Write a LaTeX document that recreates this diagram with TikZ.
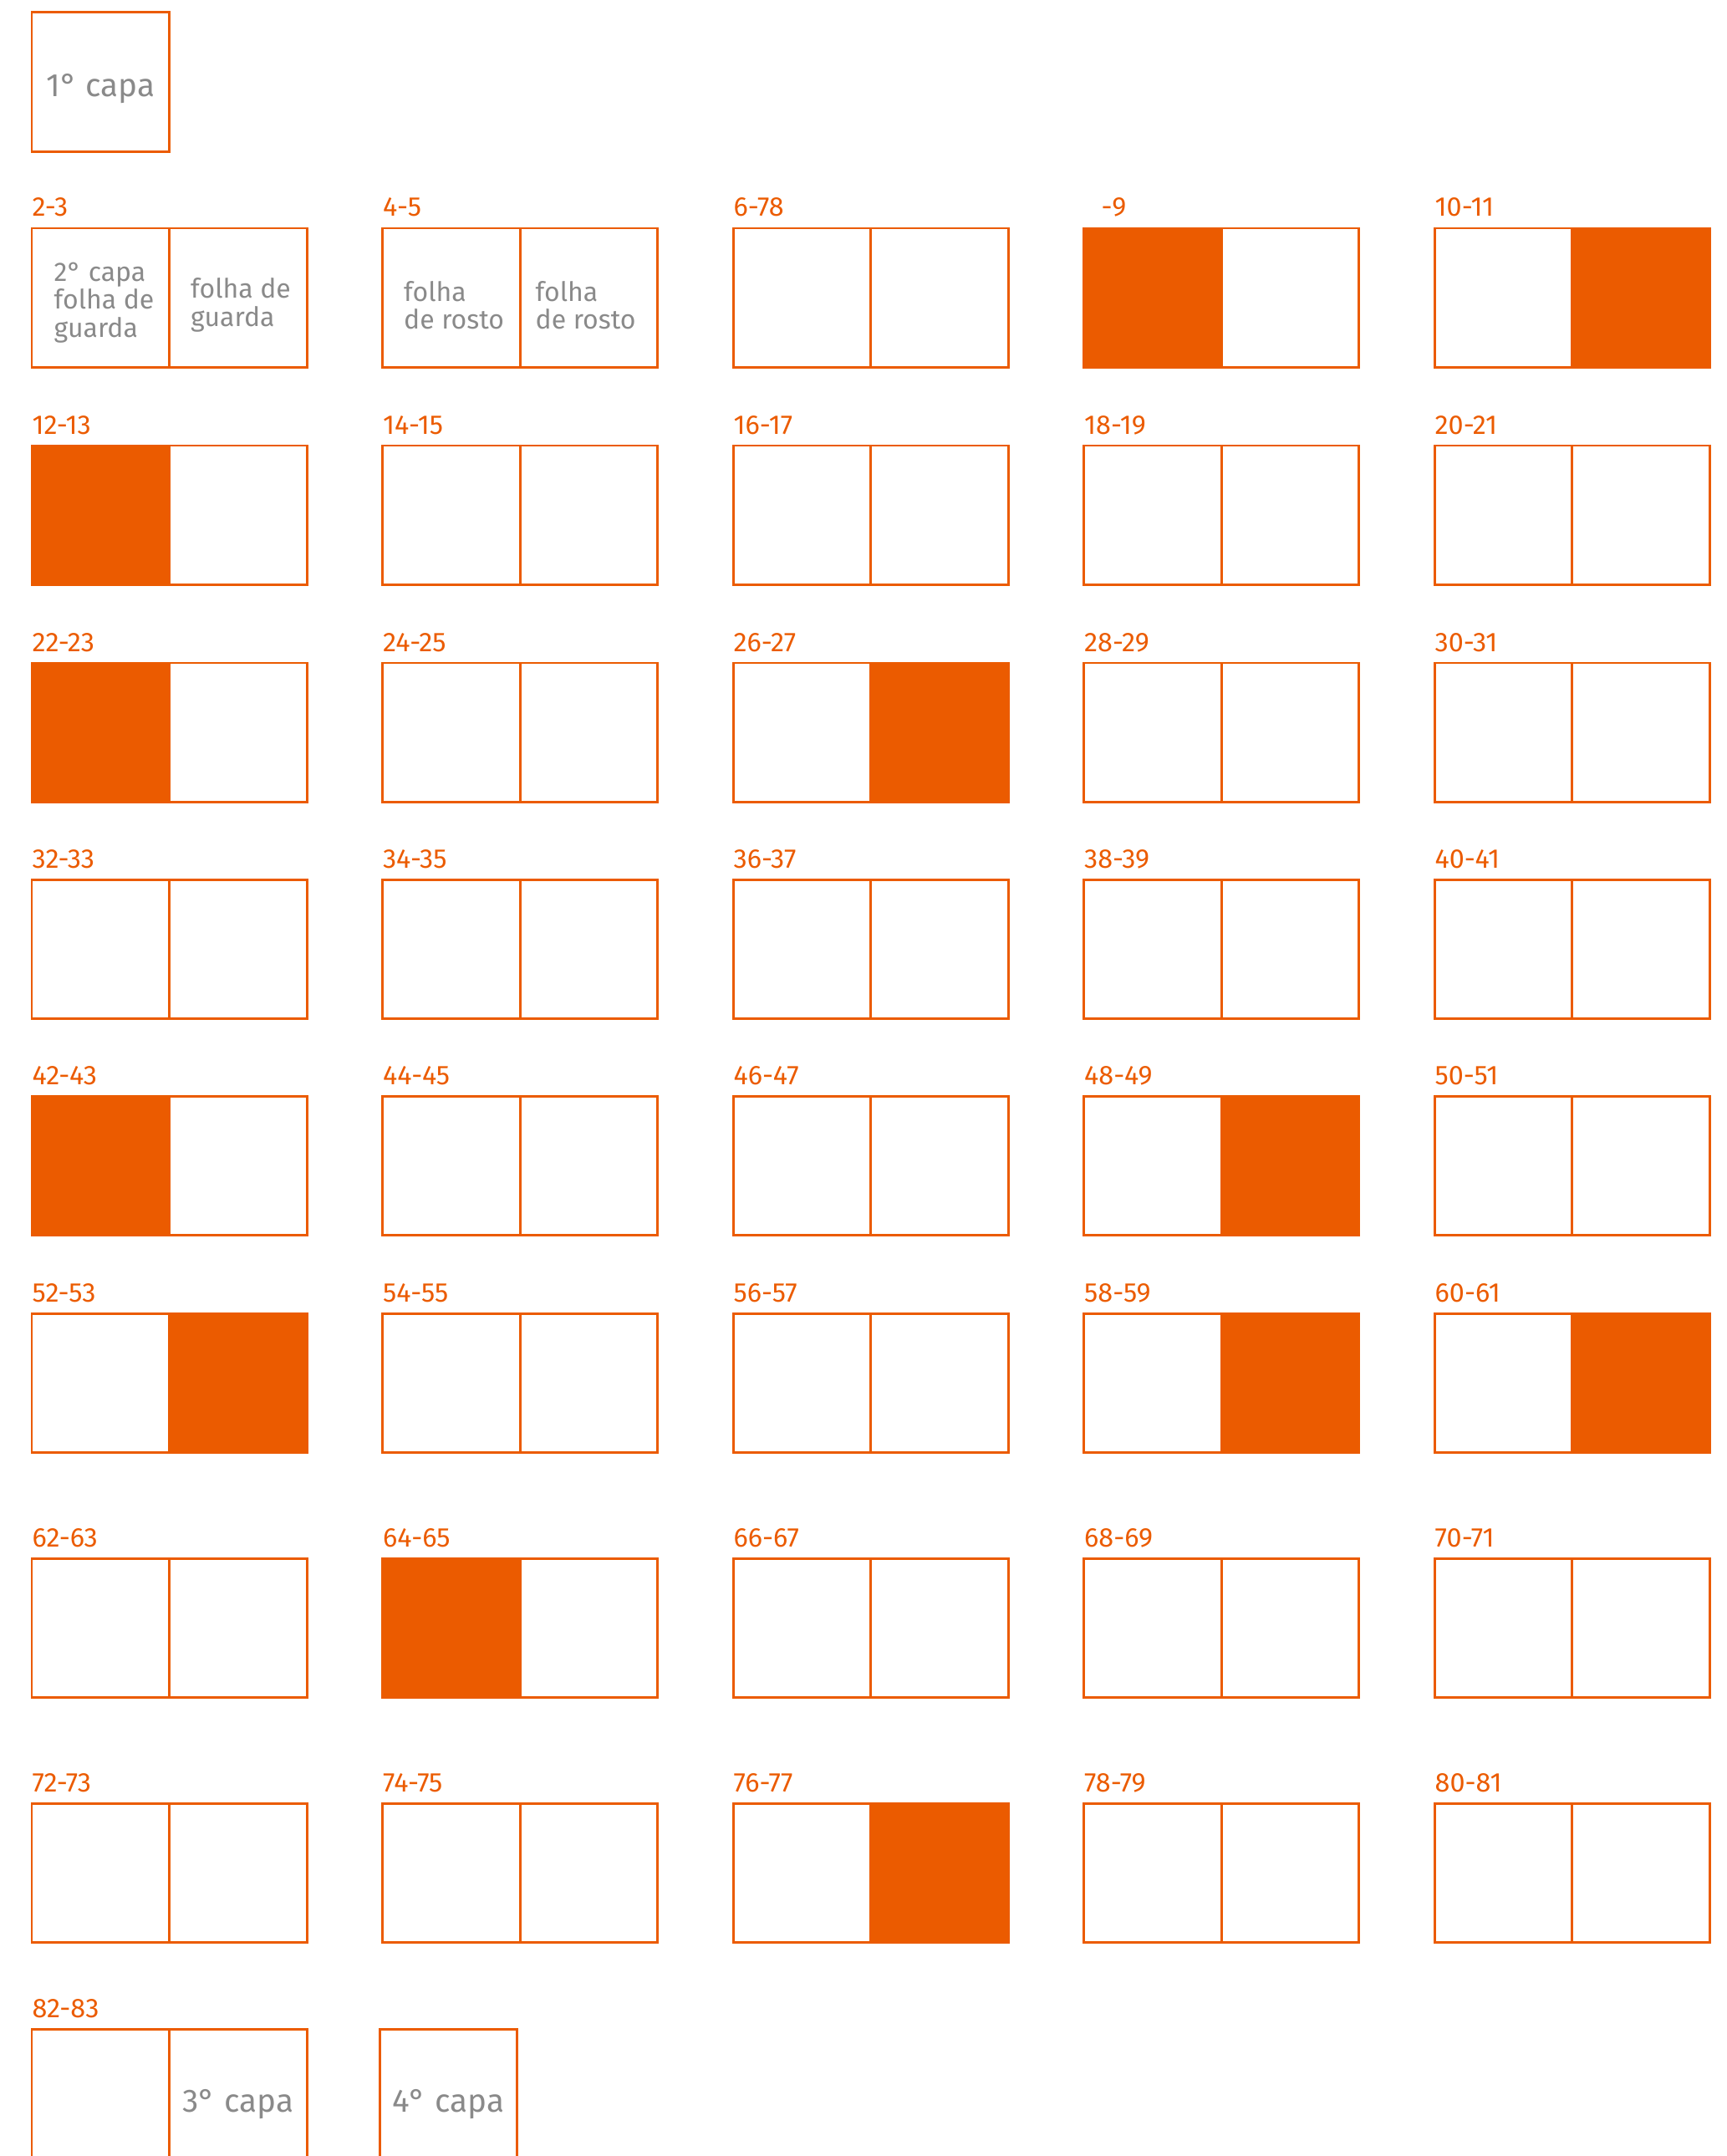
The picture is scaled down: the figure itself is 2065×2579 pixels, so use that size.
\documentclass[tikz,border=0pt]{standalone}
\usepackage{fontspec}
\setmainfont{Fira Sans}
\definecolor{brand}{HTML}{EB5B00}
\definecolor{txt}{HTML}{8A8A8A}
\newcommand\spread[6]{%
  \node[lbl] (#1l) at (#2,#3-14) {#4};
  \node[#5] (#1a) at (#2,#3) {};
  \node[#6] (#1b) at (#2+164.5,#3) {};
}
\begin{document}
\begin{tikzpicture}[x=0.01cm,y=-0.01cm,
  page/.style={draw=brand, line width=0.85pt, minimum width=1.645cm, minimum height=1.66cm, inner sep=0pt, outer sep=0pt, anchor=north west},
  full/.style={page, fill=brand},
  lbl/.style={text=brand, font=\fontsize{9.2}{9.2}\selectfont, anchor=base west, inner sep=0pt},
  ptxt/.style={text=txt, font=\fontsize{9.1}{9.5}\selectfont, align=left, anchor=west, inner sep=0pt},
  big/.style={text=txt, font=\fontsize{11}{11}\selectfont}]
\clip (0,0) rectangle (2065,2579);
% 1st cover
\node[page] (capa1) at (38,15) {};
\node[big, inner sep=0pt] (capa1t) at ([yshift=-0.08cm]capa1.center) {1° capa};
% row 1
\spread{s23}{38}{273}{2-3}{page}{page}
\spread{s45}{457.5}{273}{4-5}{page}{page}
\spread{s678}{877}{273}{6-78}{page}{page}
\node[lbl] (s89l) at (1317,259) {-9};
\node[full] (s89a) at (1296.5,273) {};
\node[page] (s89b) at (1461,273) {};
\spread{s1011}{1716}{273}{10-11}{page}{full}
\node[ptxt] (t23a) at ([xshift=0.26cm,yshift=-0.06cm]s23a.west) {2° capa\\folha de\\guarda};
\node[ptxt] (t23b) at ([xshift=0.25cm,yshift=-0.09cm]s23b.west) {folha de\\guarda};
\node[ptxt] (t45a) at ([xshift=0.25cm,yshift=-0.09cm]s45a.west) {folha\\de rosto};
\node[ptxt] (t45b) at ([xshift=0.18cm,yshift=-0.09cm]s45b.west) {folha\\de rosto};
% row 2
\spread{s1213}{38}{533}{12-13}{full}{page}
\spread{s1415}{457.5}{533}{14-15}{page}{page}
\spread{s1617}{877}{533}{16-17}{page}{page}
\spread{s1819}{1296.5}{533}{18-19}{page}{page}
\spread{s2021}{1716}{533}{20-21}{page}{page}
% row 3
\spread{s2223}{38}{793}{22-23}{full}{page}
\spread{s2425}{457.5}{793}{24-25}{page}{page}
\spread{s2627}{877}{793}{26-27}{page}{full}
\spread{s2829}{1296.5}{793}{28-29}{page}{page}
\spread{s3031}{1716}{793}{30-31}{page}{page}
% row 4
\spread{s3233}{38}{1052}{32-33}{page}{page}
\spread{s3435}{457.5}{1052}{34-35}{page}{page}
\spread{s3637}{877}{1052}{36-37}{page}{page}
\spread{s3839}{1296.5}{1052}{38-39}{page}{page}
\spread{s4041}{1716}{1052}{40-41}{page}{page}
% row 5
\spread{s4243}{38}{1311}{42-43}{full}{page}
\spread{s4445}{457.5}{1311}{44-45}{page}{page}
\spread{s4647}{877}{1311}{46-47}{page}{page}
\spread{s4849}{1296.5}{1311}{48-49}{page}{full}
\spread{s5051}{1716}{1311}{50-51}{page}{page}
% row 6
\spread{s5253}{38}{1571}{52-53}{page}{full}
\spread{s5455}{457.5}{1571}{54-55}{page}{page}
\spread{s5657}{877}{1571}{56-57}{page}{page}
\spread{s5859}{1296.5}{1571}{58-59}{page}{full}
\spread{s6061}{1716}{1571}{60-61}{page}{full}
% row 7
\spread{s6263}{38}{1864}{62-63}{page}{page}
\spread{s6465}{457.5}{1864}{64-65}{full}{page}
\spread{s6667}{877}{1864}{66-67}{page}{page}
\spread{s6869}{1296.5}{1864}{68-69}{page}{page}
\spread{s7071}{1716}{1864}{70-71}{page}{page}
% row 8
\spread{s7273}{38}{2157}{72-73}{page}{page}
\spread{s7475}{457.5}{2157}{74-75}{page}{page}
\spread{s7677}{877}{2157}{76-77}{page}{full}
\spread{s7879}{1296.5}{2157}{78-79}{page}{page}
\spread{s8081}{1716}{2157}{80-81}{page}{page}
% row 9
\node[lbl] (s8283l) at (38,2413) {82-83};
\node[page] (s8283a) at (38,2427) {};
\node[page] (s8283b) at (202.5,2427) {};
\node[big, inner sep=0pt] (t3capa) at ([yshift=-0.07cm]s8283b.center) {3° capa};
\node[page] (capa4) at (454,2427) {};
\node[big, inner sep=0pt] (t4capa) at ([yshift=-0.07cm]capa4.center) {4° capa};
\end{tikzpicture}
\end{document}
